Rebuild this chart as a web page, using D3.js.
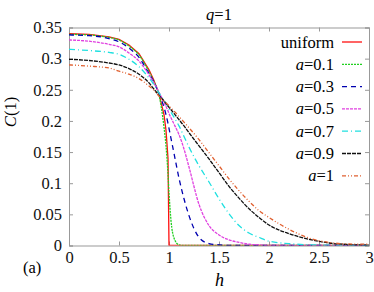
<!DOCTYPE html>
<html>
<head>
<meta charset="utf-8">
<script src="https://d3js.org/d3.v7.min.js"></script>
<style>
  body { margin: 0; background: #fff; }
  svg text { font-family: "Liberation Serif", "Times New Roman", Times, "DejaVu Serif", serif !important; }
</style>
</head>
<body>
<div id="chart-area"></div>
<script>
var margin = { left: 69, right: 5, top: 27.5, bottom: 46.5 };
var width = 374 - margin.left - margin.right,
    height = 292 - margin.top - margin.bottom;

// h values shared by all curves
var hGrid = [0, 0.2, 0.4, 0.5, 0.6, 0.7, 0.8, 0.85, 0.9, 0.95, 0.97, 0.99, 1.0, 1.02, 1.05,
  1.1, 1.15, 1.2, 1.3, 1.4, 1.5, 1.6, 1.7, 1.8, 1.9, 2.0, 2.2, 2.4, 2.6, 2.8, 3.0];

var cUniform = [0.340, 0.339, 0.335, 0.331, 0.322, 0.308, 0.282, 0.265, 0.243, 0.210, 0.185, 0.140, 0, 0, 0,
  0, 0, 0, 0, 0, 0, 0, 0, 0, 0, 0, 0, 0, 0, 0, 0];
var cA01 = [0.339, 0.338, 0.334, 0.330, 0.320, 0.306, 0.279, 0.263, 0.242, 0.190, 0.160, 0.115, 0.085, 0.040, 0.012,
  0.001, 0, 0, 0, 0, 0, 0, 0, 0, 0, 0, 0, 0, 0, 0, 0];
var cA03 = [0.338, 0.337, 0.332, 0.327, 0.317, 0.302, 0.276, 0.262, 0.244, 0.222, 0.210, 0.196, 0.188, 0.172, 0.148,
  0.108, 0.075, 0.048, 0.013, 0.003, 0.001, 0, 0, 0, 0, 0, 0, 0, 0, 0, 0];
var cA05 = [0.330, 0.328, 0.323, 0.319, 0.309, 0.296, 0.274, 0.261, 0.246, 0.230, 0.223, 0.216, 0.212, 0.205, 0.195,
  0.178, 0.155, 0.126, 0.066, 0.032, 0.017, 0.009, 0.005, 0.002, 0.001, 0, 0, 0, 0, 0, 0];
var cA07 = [0.315, 0.313, 0.310, 0.307, 0.299, 0.287, 0.269, 0.258, 0.245, 0.233, 0.228, 0.222, 0.219, 0.214, 0.206,
  0.192, 0.175, 0.158, 0.128, 0.102, 0.075, 0.051, 0.032, 0.020, 0.013, 0.007, 0.003, 0.0012, 0.0005, 0, 0];
var cA09 = [0.299, 0.297, 0.293, 0.290, 0.284, 0.275, 0.261, 0.251, 0.241, 0.232, 0.228, 0.224, 0.222, 0.218, 0.212,
  0.202, 0.192, 0.181, 0.160, 0.139, 0.117, 0.095, 0.076, 0.059, 0.045, 0.033, 0.019, 0.010, 0.004, 0.0015, 0.0005];
var cA1 = [0.290, 0.288, 0.285, 0.280, 0.275, 0.268, 0.256, 0.249, 0.240, 0.232, 0.229, 0.226, 0.224, 0.221, 0.216,
  0.207, 0.198, 0.189, 0.170, 0.149, 0.128, 0.107, 0.088, 0.071, 0.056, 0.045, 0.026, 0.012, 0.005, 0.0025, 0.002];

var seriesNames = ["uniform", "0.1", "0.3", "0.5", "0.7", "0.9", "1"];
var seriesValues = [cUniform, cA01, cA03, cA05, cA07, cA09, cA1];
var seriesColors = ["#ff1010", "#20d020", "#0000b0", "#e040e0", "#20e0e0", "#101010", "#e06030"];
var seriesDash = ["none", "2,1", "5,4", "3,1", "6,3,1,3", "4,1", "4,2,1,2,1,2"];

var xTicks = [0, 0.5, 1, 1.5, 2, 2.5, 3];
var yTicks = [0, 0.05, 0.1, 0.15, 0.2, 0.25, 0.3, 0.35];

var serif = "'Liberation Serif', 'Times New Roman', Times, 'DejaVu Serif', serif";
var fs = "16.5px";

var svg = d3.select("#chart-area")
  .append("svg")
    .attr("width", 374)
    .attr("height", 292)
    .attr("font-family", serif);

var g = svg.append("g")
  .attr("transform", "translate(" + margin.left + ", " + margin.top + ")");

var x = d3.scaleLinear().domain([0, 3]).range([0, width]);
var y = d3.scaleLinear().domain([0, 0.35]).range([height, 0]);

var frameColor = "#999";

// ticks on all four sides, pointing inward
g.append("g")
  .attr("transform", "translate(0," + height + ")")
  .call(d3.axisBottom(x).tickValues(xTicks).tickSize(-4).tickPadding(6)
    .tickFormat(function(d){ return d3.format("~g")(d); }));
g.append("g")
  .call(d3.axisTop(x).tickValues(xTicks).tickSize(-4).tickFormat(""));
g.append("g")
  .call(d3.axisLeft(y).tickValues(yTicks).tickSize(-4).tickPadding(7)
    .tickFormat(function(d){ return d3.format("~g")(d); }));
g.append("g")
  .attr("transform", "translate(" + width + ",0)")
  .call(d3.axisRight(y).tickValues(yTicks).tickSize(-4).tickFormat(""));

g.selectAll("g").attr("font-family", serif);
g.selectAll(".domain").attr("stroke", frameColor);
g.selectAll(".tick line").attr("stroke", frameColor);
g.selectAll(".tick text")
  .attr("font-size", fs)
  .attr("fill", "#111");

g.append("clipPath").attr("id", "clip")
  .append("rect").attr("width", width).attr("height", height + 1).attr("y", -1);

var line = d3.line()
  .x(function(d){ return x(d[0]); })
  .y(function(d){ return y(d[1]); })
  .curve(d3.curveMonotoneX);

var lineStraight = d3.line()
  .x(function(d){ return x(d[0]); })
  .y(function(d){ return y(d[1]); });

var curves = g.append("g").attr("clip-path", "url(#clip)");

seriesValues.forEach(function(vals, i) {
  var pts = hGrid.map(function(h, j){ return [h, vals[j]]; });
  curves.append("path")
    .attr("d", i === 0 ? lineStraight(pts) : line(pts))
    .attr("fill", "none")
    .attr("stroke", seriesColors[i])
    .attr("stroke-width", 1.3)
    .attr("stroke-dasharray", seriesDash[i]);
});

// legend
var legend = svg.append("g");
seriesNames.forEach(function(name, i) {
  var ly = 42 + i * 22.3;
  var t = legend.append("text")
    .attr("x", 334)
    .attr("y", ly + 5.5)
    .attr("text-anchor", "end")
    .attr("font-size", fs);
  if (i === 0) {
    t.text(name);
  } else {
    t.append("tspan").attr("font-style", "italic").text("a");
    t.append("tspan").text("=" + name);
  }
  legend.append("line")
    .attr("x1", 342).attr("x2", 362)
    .attr("y1", ly).attr("y2", ly)
    .attr("stroke", seriesColors[i])
    .attr("stroke-width", 1.3)
    .attr("stroke-dasharray", seriesDash[i]);
});

// title and axis labels
var title = svg.append("text")
  .attr("x", 219).attr("y", 20)
  .attr("text-anchor", "middle")
  .attr("font-size", fs);
title.append("tspan").attr("font-style", "italic").text("q");
title.append("tspan").text("=1");

svg.append("text")
  .attr("x", 219.5).attr("y", 286)
  .attr("text-anchor", "middle")
  .attr("font-size", "18px")
  .attr("font-style", "italic")
  .text("h");

var yLabel = svg.append("text")
  .attr("transform", "translate(16, 112) rotate(-90)")
  .attr("text-anchor", "middle")
  .attr("font-size", fs);
yLabel.append("tspan").attr("font-style", "italic").text("C");
yLabel.append("tspan").text("(1)");

svg.append("text")
  .attr("x", 23).attr("y", 273)
  .attr("font-size", fs)
  .text("(a)");
</script>
</body>
</html>
